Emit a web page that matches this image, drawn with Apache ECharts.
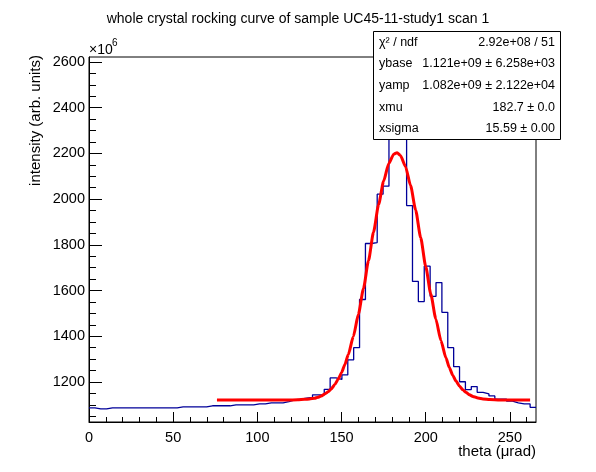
<!DOCTYPE html>
<html><head><meta charset="utf-8">
<script src="https://cdn.jsdelivr.net/npm/echarts@6/dist/echarts.min.js"></script>
<style>html,body{margin:0;padding:0;background:#fff}#c{width:596px;height:472px}</style>
</head><body><div id="c"></div>
<script>
const chartTitle = 'whole crystal rocking curve of sample UC45-11-study1 scan 1';
const xTitle = 'theta (\u03bcrad)';
const yTitle = 'intensity (arb. units)';
const xMin = 0, xMax = 265.5, binWidth = 3.4934;
const yMin = 1025, yMax = 2622;
// histogram bin contents (x10^6), 76 bins
const counts = [
1087,1082,1082,1087,1087,1087,1087,1087,1087,1087,
1087,1087,1087,1087,1087,1091,1091,1091,1091,1091,
1096,1096,1096,1096,1100,1100,1100,1100,1104,1104,
1109,1109,1109,1114,1122,1125,1129,1133,1144,1144,
1168,1218,1211,1231,1297,1350,1561,1806,1810,2022,
2057,2310,2330,2290,1972,1640,1552,1707,1575,1635,
1505,1350,1267,1201,1167,1180,1155,1148,1139,1125,
1125,1116,1109,1104,1104,1089
];
// fit curve points
const fitX = [76,100,118,124,128,131,134,136,138,140,142,144,146,148,150,152,154,157,160,163,166,169,172,175,178,181,183,185,188,191,194,197,200,203,206,209,212,214,216,218,220,222,224,226,228,231,234,238,244,252,262];
const fitY = [1121,1121,1121,1122,1124,1126,1129,1133,1139,1147,1157,1171,1189,1212,1241,1277,1320,1399,1496,1608,1731,1856,1976,2079,2155,2197,2203,2191,2142,2060,1953,1832,1705,1585,1476,1382,1306,1264,1230,1204,1183,1166,1154,1144,1137,1130,1126,1123,1121,1121,1121];
const xMajorTicks = [0,50,100,150,200,250];
const xMinorTicks = [0,10,20,30,40,50,60,70,80,90,100,110,120,130,140,150,160,170,180,190,200,210,220,230,240,250,260];
const yMajorTicks = [1200,1400,1600,1800,2000,2200,2400,2600];
const yMinorTicks = [1050,1100,1150,1200,1250,1300,1350,1400,1450,1500,1550,1600,1650,1700,1750,1800,1850,1900,1950,2000,2050,2100,2150,2200,2250,2300,2350,2400,2450,2500,2550,2600];
const statNames = ['\u03c7\u00b2 / ndf','ybase','yamp','xmu','xsigma'];
const statValues = ['2.92e+08 / 51','1.121e+09 \u00b1 6.258e+03','1.082e+09 \u00b1 2.122e+04','182.7 \u00b1 0.0','15.59 \u00b1 0.00'];

const FONT = '"Liberation Sans", Arial, Helvetica, sans-serif';

const histData = counts.map((v, i) => [xMin + i * binWidth, v]);
histData.push([xMin + counts.length * binWidth, counts[counts.length - 1]]);
const fitData = fitX.map((x, i) => [x, fitY[i]]);

const chart = echarts.init(document.getElementById('c'), null, {renderer: 'canvas'});

const boxX = 373.5, boxY = 31.5, boxW = 187, boxH = 108;
const rowH = boxH / statNames.length;
const statGraphics = [];
statNames.forEach((n, i) => {
  const cy = boxY + rowH * (i + 0.5);
  statGraphics.push({type: 'text', x: 379, y: cy, z: 101,
    style: {text: n, fontSize: 12.5, fontFamily: FONT, fill: '#000', align: 'left', verticalAlign: 'middle'}});
  statGraphics.push({type: 'text', x: 555, y: cy, z: 101,
    style: {text: statValues[i], fontSize: 12.5, fontFamily: FONT, fill: '#000', align: 'right', verticalAlign: 'middle'}});
});

const plain = v => String(v);
const axisCommon = {type: 'value', splitLine: {show: false}, scale: false};

chart.setOption({
  animation: false,
  backgroundColor: '#fff',
  title: {text: chartTitle, left: 'center', top: 7,
    textStyle: {fontSize: 14, fontWeight: 'normal', color: '#000', fontFamily: FONT}},
  grid: {left: 89, right: 60, top: 57, bottom: 50, show: true, borderColor: '#000', borderWidth: 1,
    backgroundColor: 'transparent', containLabel: false, outerBoundsMode: 'none'},
  xAxis: [
    Object.assign({}, axisCommon, {min: xMin, max: xMax, position: 'bottom',
      axisLine: {show: true, onZero: false, lineStyle: {color: '#000', width: 1}},
      axisTick: {show: true, inside: true, length: 10, customValues: xMajorTicks, lineStyle: {color: '#000', width: 1}},
      axisLabel: {show: true, customValues: xMajorTicks, formatter: plain, color: '#000', fontSize: 14.5, margin: 8, fontFamily: FONT}}),
    Object.assign({}, axisCommon, {min: xMin, max: xMax, position: 'bottom',
      axisLine: {show: false, onZero: false},
      axisTick: {show: true, inside: true, length: 5, customValues: xMinorTicks, lineStyle: {color: '#000', width: 1}},
      axisLabel: {show: false}})
  ],
  yAxis: [
    Object.assign({}, axisCommon, {min: yMin, max: yMax, position: 'left',
      axisLine: {show: true, onZero: false, lineStyle: {color: '#000', width: 1}},
      axisTick: {show: true, inside: true, length: 13, customValues: yMajorTicks, lineStyle: {color: '#000', width: 1}},
      axisLabel: {show: true, customValues: yMajorTicks, formatter: plain, color: '#000', fontSize: 14.5, margin: 4, fontFamily: FONT}}),
    Object.assign({}, axisCommon, {min: yMin, max: yMax, position: 'left',
      axisLine: {show: false, onZero: false},
      axisTick: {show: true, inside: true, length: 7, customValues: yMinorTicks, lineStyle: {color: '#000', width: 1}},
      axisLabel: {show: false}})
  ],
  series: [
    {type: 'line', name: 'hist', xAxisIndex: 0, yAxisIndex: 0, data: histData, step: 'end',
      showSymbol: false, symbol: 'none', clip: true,
      lineStyle: {color: '#000099', width: 1.3}, z: 2},
    {type: 'line', name: 'fit', xAxisIndex: 0, yAxisIndex: 0, data: fitData, smooth: 0.2, smoothMonotone: 'x',
      showSymbol: false, symbol: 'none', clip: true,
      lineStyle: {color: '#ff0000', width: 3}, z: 3}
  ],
  graphic: [
    {type: 'text', x: 89, y: 50, z: 50,
      style: {text: '\u00d710', fontSize: 14, fontFamily: FONT, fill: '#000', align: 'left', verticalAlign: 'middle'}},
    {type: 'text', x: 112, y: 43, z: 50,
      style: {text: '6', fontSize: 10, fontFamily: FONT, fill: '#000', align: 'left', verticalAlign: 'middle'}},
    {type: 'text', x: 36, y: 55, rotation: Math.PI / 2, z: 50,
      style: {text: yTitle, fontSize: 15, fontFamily: FONT, fill: '#000', align: 'right', verticalAlign: 'middle'}},
    {type: 'text', x: 536, y: 452, z: 50,
      style: {text: xTitle, fontSize: 15, fontFamily: FONT, fill: '#000', align: 'right', verticalAlign: 'middle'}},
    {type: 'rect', z: 100, shape: {x: boxX, y: boxY, width: boxW, height: boxH},
      style: {fill: '#fff', stroke: '#000', lineWidth: 1}}
  ].concat(statGraphics)
});
</script>
</body></html>
